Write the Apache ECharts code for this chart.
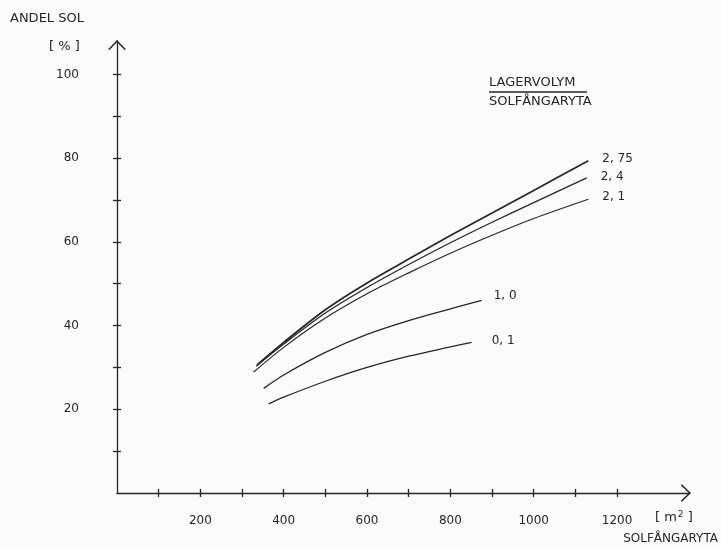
<!DOCTYPE html>
<html>
<head>
<meta charset="utf-8">
<script src="https://cdn.jsdelivr.net/npm/echarts@6/dist/echarts.min.js"></script>
<style>
  html, body { margin: 0; padding: 0; background: #fbfbfb; }
  #chart { width: 721px; height: 547px; }
</style>
</head>
<body>
<div id="chart"></div>
<script>
// ---- data ----
const xTickValues = [100, 200, 300, 400, 500, 600, 700, 800, 900, 1000, 1100, 1200];
const xLabelValues = [200, 400, 600, 800, 1000, 1200];
const yTickValues = [10, 20, 30, 40, 50, 60, 70, 80, 90, 100];
const yLabelValues = [20, 40, 60, 80, 100];

const x275 = [336, 400, 500, 600, 700, 800, 900, 1000, 1131];
const y275 = [30.6, 36.0, 43.8, 50.2, 55.9, 61.5, 66.9, 72.3, 79.4];
const x240 = [334, 400, 500, 600, 700, 800, 900, 1000, 1127];
const y240 = [30.3, 35.6, 43.0, 49.1, 54.6, 59.8, 64.7, 69.4, 75.3];
const x210 = [328, 400, 500, 600, 700, 800, 900, 1000, 1131];
const y210 = [28.9, 34.8, 41.8, 47.6, 52.6, 57.3, 61.6, 65.6, 70.2];
const x100 = [352, 400, 500, 600, 700, 800, 875];
const y100 = [25.0, 28.2, 33.6, 37.9, 41.2, 44.0, 46.0];
const x010 = [364, 400, 500, 600, 700, 800, 851];
const y010 = [21.3, 22.9, 26.7, 30.0, 32.7, 34.9, 36.0];

const curveNames = ['2, 75', '2, 4', '2, 1', '1, 0', '0, 1'];
const curveX = [x275, x240, x210, x100, x010];
const curveY = [y275, y240, y210, y100, y010];

// ---- styling ----
const INK = '#262626';
const FONT = 'DejaVu Sans';
const arrowPath = 'path://M9.5,0 L19,10 L17.6,10.7 L9.5,2.3 L1.4,10.7 L0,10 Z';

const labelOffsets = [[6, -2], [6, -1], [6, -2], [4, -5], [12, -1]];
const lineWidths = [1.7, 1.3, 1.2, 1.3, 1.3];

const series = curveNames.map((name, i) => ({
  name: name,
  type: 'line',
  xAxisIndex: 0,
  yAxisIndex: 0,
  smooth: 0.3,
  showSymbol: false,
  symbol: 'none',
  lineStyle: { color: INK, width: lineWidths[i] },
  data: curveX[i].map((x, j) => [x, curveY[i][j]]),
  endLabel: {
    show: true,
    formatter: name,
    color: INK,
    fontFamily: FONT,
    fontSize: 12,
    offset: labelOffsets[i]
  },
  animation: false
}));

const chart = echarts.init(document.getElementById('chart'), null, { renderer: 'canvas' });

const plainNum = v => String(v);

const option = {
  backgroundColor: '#fbfbfb',
  animation: false,
  grid: { left: 117, right: 31, top: 41, bottom: 54, containLabel: false },
  xAxis: [
    {
      type: 'value', min: 0, max: 1375, position: 'bottom',
      axisLine: { show: true, lineStyle: { color: INK, width: 1.3 },
        symbol: ['none', arrowPath], symbolSize: [19, 10], symbolOffset: [0, -4] },
      axisTick: { show: true, length: 4, inside: false, customValues: xTickValues,
        lineStyle: { color: INK, width: 1.3 } },
      axisLabel: { show: true, customValues: xLabelValues, margin: 22, formatter: plainNum,
        color: INK, fontFamily: FONT, fontSize: 12 },
      splitLine: { show: false }
    },
    {
      type: 'value', min: 0, max: 1375, position: 'bottom',
      axisLine: { show: false },
      axisTick: { show: true, length: 4, inside: true, customValues: xTickValues,
        lineStyle: { color: INK, width: 1.3 } },
      axisLabel: { show: false },
      splitLine: { show: false }
    }
  ],
  yAxis: [
    {
      type: 'value', min: 0, max: 108, position: 'left',
      axisLine: { show: true, lineStyle: { color: INK, width: 1.3 },
        symbol: ['none', arrowPath], symbolSize: [19, 10], symbolOffset: [0, -4] },
      axisTick: { show: true, length: 4, inside: false, customValues: yTickValues,
        lineStyle: { color: INK, width: 1.3 } },
      axisLabel: { show: true, customValues: yLabelValues, margin: 38, formatter: plainNum,
        color: INK, fontFamily: FONT, fontSize: 12 },
      splitLine: { show: false }
    },
    {
      type: 'value', min: 0, max: 108, position: 'left',
      axisLine: { show: false },
      axisTick: { show: true, length: 4, inside: true, customValues: yTickValues,
        lineStyle: { color: INK, width: 1.3 } },
      axisLabel: { show: false },
      splitLine: { show: false }
    }
  ],
  graphic: [
    { type: 'text', left: 10, top: 12,
      style: { text: 'ANDEL SOL', fill: INK, font: '13px "DejaVu Sans"' } },
    { type: 'text', left: 49, top: 40,
      style: { text: '[ % ]', fill: INK, font: '13px "DejaVu Sans"' } },
    { type: 'text', left: 489, top: 76,
      style: { text: 'LAGERVOLYM', fill: INK, font: '13px "DejaVu Sans"' } },
    { type: 'line', shape: { x1: 489, y1: 92, x2: 587, y2: 92 },
      style: { stroke: INK, lineWidth: 1.3 } },
    { type: 'text', left: 489, top: 95,
      style: { text: 'SOLFÅNGARYTA', fill: INK, font: '13px "DejaVu Sans"' } },
    { type: 'text', left: 655, top: 510,
      style: {
        text: '[ m{s|2} ]',
        fill: INK, font: '13px "DejaVu Sans"',
        rich: { s: { fontSize: 9, verticalAlign: 'top', padding: [0, 0, 6, 1], fontFamily: FONT } }
      } },
    { type: 'text', right: 3, top: 533,
      style: { text: 'SOLFÅNGARYTA', fill: INK, font: '12px "DejaVu Sans"' } }
  ],
  series: series
};

chart.setOption(option);
</script>
</body>
</html>
